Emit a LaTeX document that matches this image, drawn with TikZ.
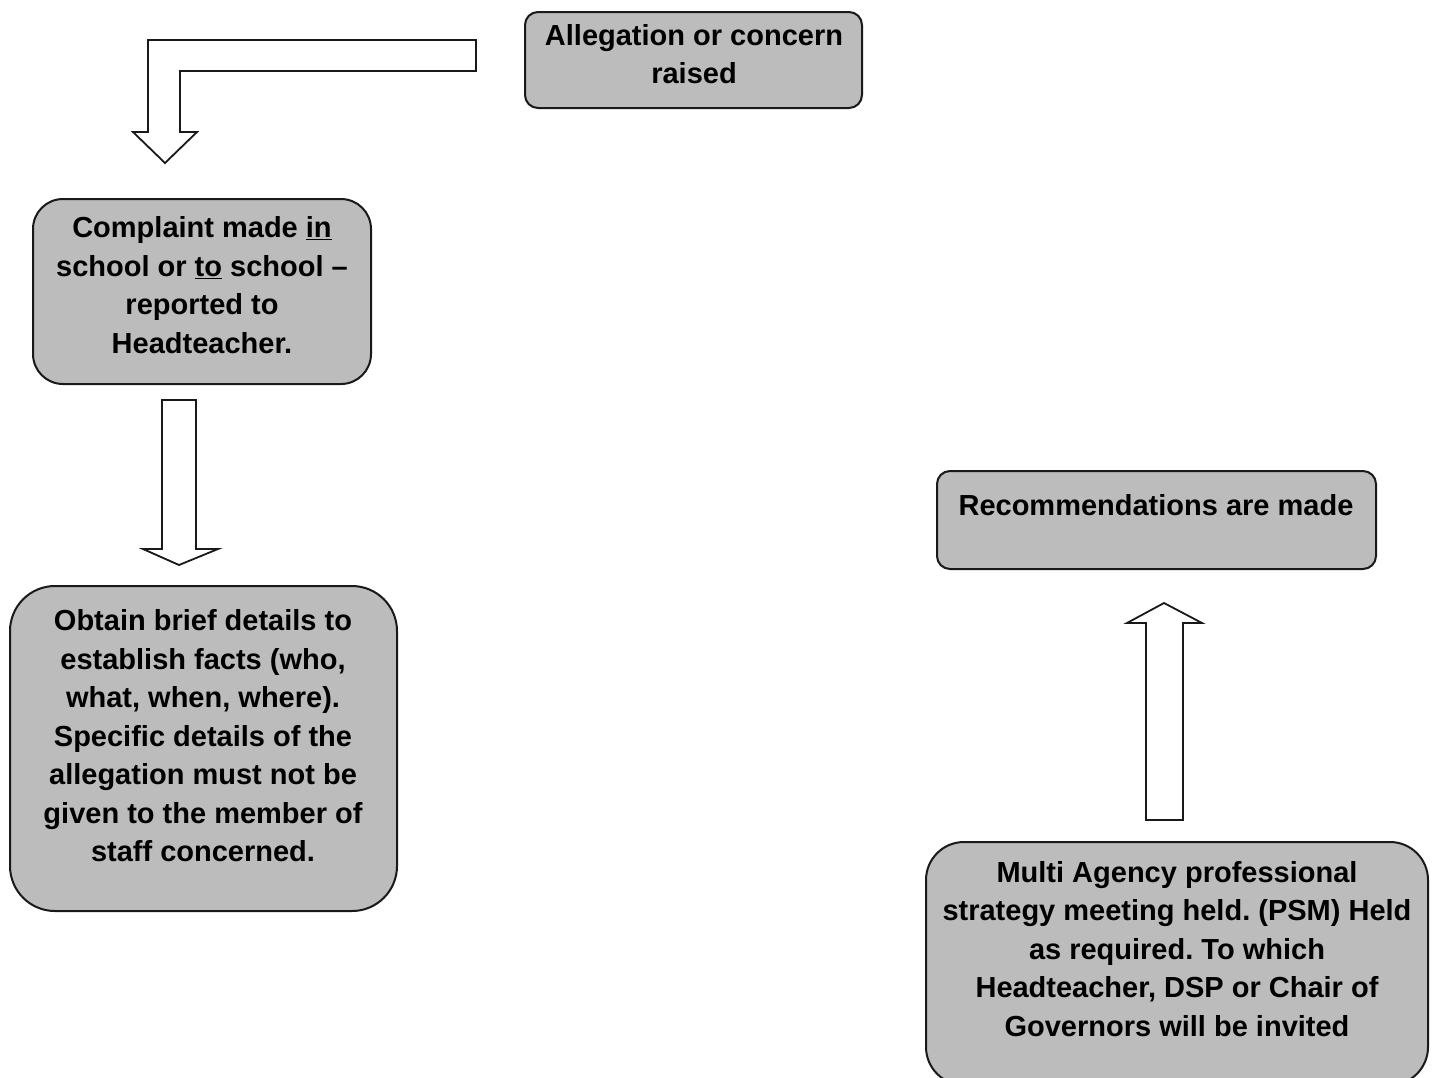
\documentclass[tikz,border=0pt]{standalone}
\usepackage{fontspec}
\setmainfont{Liberation Sans}
\definecolor{boxgray}{RGB}{188,188,188}
\begin{document}
\frenchspacing
\begin{tikzpicture}[x=1pt,y=-1pt,
  box/.style={draw=black!90, line width=2pt, fill=boxgray, inner sep=0pt},
  txt/.style={font=\bfseries\fontsize{29}{38.5}\selectfont, align=center, inner sep=0pt, text=black},
  blockarrow/.style={draw=black!90, line width=1.8pt, fill=white, line join=miter}]
\clip (0,0) rectangle (1437,1077);
\useasboundingbox (0,0) rectangle (1437,1077);
\fill[white] (0,0) rectangle (1437,1077);

% boxes
\node[box, rounded corners=13pt, minimum width=337pt, minimum height=96pt] (A) at (693.5,60) {};
\node[box, rounded corners=30pt, minimum width=338pt, minimum height=185pt] (B) at (202,291.5) {};
\node[box, rounded corners=45pt, minimum width=387pt, minimum height=325pt] (C) at (203.5,748.5) {};
\node[box, rounded corners=13pt, minimum width=439pt, minimum height=98pt] (D) at (1156.5,520) {};
\node[box, rounded corners=38pt, minimum width=502pt, minimum height=243pt] (E) at (1177,963.5) {};

% texts
\node[txt] (At) at (694,54) {Allegation or concern\\raised};
\node[txt] (Bt) at (202,285) {Complaint made \underline{in}\\school or \underline{to} school –\\reported to\\Headteacher.};
\node[txt] (Ct) at (203,736) {Obtain brief details to\\establish facts (who,\\what, when, where).\\Specific details of the\\allegation must not be\\given to the member of\\staff concerned.};
\node[txt] (Dt) at (1156,505) {Recommendations are made};
\node[txt] (Et) at (1177,949) {Multi Agency professional\\strategy meeting held. (PSM) Held\\as required. To which\\Headteacher, DSP or Chair of\\Governors will be invited};

% block arrows
\coordinate (a1) at (476,40);
\draw[blockarrow] (a1) -- (148,40) -- (148,132) -- (133,132) -- (165,163) -- (197,132)
  -- (180,132) -- (180,71) -- (476,71) -- cycle;
\coordinate (a2) at (162,400);
\draw[blockarrow] (a2) -- (196,400) -- (196,549) -- (218,549) -- (179,565) -- (143,549)
  -- (162,549) -- cycle;
\coordinate (a3) at (1146,820);
\draw[blockarrow] (a3) -- (1146,623) -- (1127,623) -- (1164,603) -- (1202,623)
  -- (1183,623) -- (1183,820) -- cycle;
\end{tikzpicture}
\end{document}
